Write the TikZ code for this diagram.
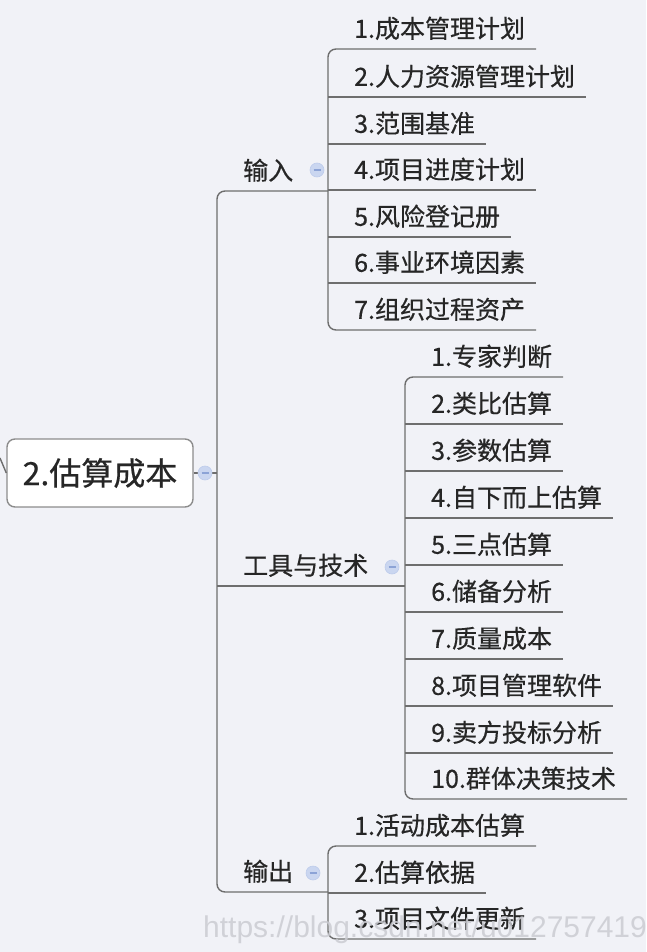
\documentclass[tikz,border=0pt]{standalone}
\usepackage{fontspec}
\setmainfont{Noto Sans CJK SC}[FakeBold=0.5]
\newfontfamily\wmfont{Liberation Sans}
\definecolor{bgc}{HTML}{F1F2F7}
\definecolor{linec}{HTML}{6E6E6E}
\definecolor{txtc}{HTML}{262626}
\definecolor{boxc}{HTML}{8C8C8C}
\definecolor{iconfill}{HTML}{CAD6F0}
\definecolor{iconline}{HTML}{8CA3D6}
\definecolor{wmc}{HTML}{CBCCD2}
\tikzset{
  conn/.style={draw=linec, line width=1.4pt},
  childbox/.style={anchor=south west, inner sep=0pt, text height=17pt, text depth=11pt,
    text=txtc, font=\fontsize{25}{28}\selectfont},
  topicbox/.style={anchor=south west, inner sep=0pt, text height=17pt, text depth=11pt,
    text=txtc, font=\fontsize{25}{28}\selectfont},
  rootbox/.style={draw=boxc, fill=white, line width=1.4pt, rounded corners=8pt,
    minimum width=186pt, minimum height=68pt, inner sep=0pt, text=txtc,
    font=\fontsize{32}{36}\selectfont},
  foldicon/.style={circle, fill=iconfill, draw=iconfill!80!iconline, line width=0.6pt,
    minimum size=14pt, inner sep=0pt,
    path picture={\draw[iconline, line width=1.2pt]
      ([xshift=-3.5pt]path picture bounding box.center) -- ([xshift=3.5pt]path picture bounding box.center);}},
}
\newcommand{\childtxt}[1]{\hspace*{26pt}#1\hspace*{11pt}}
\newcommand{\topictxt}[1]{\hspace*{26pt}#1}
\begin{document}
\begin{tikzpicture}[x=1pt,y=-1pt]
\fill[bgc] (0,0) rectangle (646,952);
\useasboundingbox (0,0) rectangle (646,952);

% root
\node[rootbox] (root) at (100,473) {2.估算成本};
\coordinate (parentEnd) at (0,458);
\draw[conn] (parentEnd) -- (root.west);

% level-1 topics
\node[topicbox] (inL) at (217,191) {\topictxt{输入}};
\node[topicbox] (toolL) at (217,586) {\topictxt{工具与技术}};
\node[topicbox] (outL) at (217,892) {\topictxt{输出}};

% inputs
\node[childbox] (c1) at (328,49) {\childtxt{1.成本管理计划}};
\node[childbox] (c2) at (328,97) {\childtxt{2.人力资源管理计划}};
\node[childbox] (c3) at (328,144) {\childtxt{3.范围基准}};
\node[childbox] (c4) at (328,190) {\childtxt{4.项目进度计划}};
\node[childbox] (c5) at (328,237) {\childtxt{5.风险登记册}};
\node[childbox] (c6) at (328,283) {\childtxt{6.事业环境因素}};
\node[childbox] (c7) at (328,330) {\childtxt{7.组织过程资产}};

% tools
\node[childbox] (t1) at (405,377) {\childtxt{1.专家判断}};
\node[childbox] (t2) at (405,424) {\childtxt{2.类比估算}};
\node[childbox] (t3) at (405,471) {\childtxt{3.参数估算}};
\node[childbox] (t4) at (405,518) {\childtxt{4.自下而上估算}};
\node[childbox] (t5) at (405,565) {\childtxt{5.三点估算}};
\node[childbox] (t6) at (405,612) {\childtxt{6.储备分析}};
\node[childbox] (t7) at (405,659) {\childtxt{7.质量成本}};
\node[childbox] (t8) at (405,706) {\childtxt{8.项目管理软件}};
\node[childbox] (t9) at (405,753) {\childtxt{9.卖方投标分析}};
\node[childbox] (t10) at (405,799) {\childtxt{10.群体决策技术}};

% outputs
\node[childbox] (o1) at (328,846) {\childtxt{1.活动成本估算}};
\node[childbox] (o2) at (328,893) {\childtxt{2.估算依据}};
\node[childbox] (o3) at (328,939) {\childtxt{3.项目文件更新}};

% main spine
\draw[conn, rounded corners=8pt] (inL.south -| c1.south west) -- (inL.south west) -- (outL.south west) -- (outL.south -| o1.south west);
\draw[conn] (toolL.south west) -- (toolL.south -| t1.south west);
\draw[conn] (root.east) -- (root.east -| inL.south west);

% input spine
\draw[conn, rounded corners=8pt] (c1.south east) -- (c1.south west) -- (c7.south west) -- (c7.south east);
\foreach \n in {c2,c3,c4,c5,c6} \draw[conn] (\n.south west) -- (\n.south east);

% tools spine
\draw[conn, rounded corners=8pt] (t1.south east) -- (t1.south west) -- (t10.south west) -- (t10.south east);
\foreach \n in {t2,t3,t4,t5,t6,t7,t8,t9} \draw[conn] (\n.south west) -- (\n.south east);

% outputs spine
\draw[conn, rounded corners=8pt] (o1.south east) -- (o1.south west) -- (o3.south west) -- (o3.south east);
\draw[conn] (o2.south west) -- (o2.south east);

% fold icons
\node[foldicon] (rootIcon) at (205,473) {};
\node[foldicon] (inIcon) at (317,170) {};
\node[foldicon] (toolIcon) at (392,567) {};
\node[foldicon] (outIcon) at (313,873) {};

% watermark
\node[anchor=base west, inner sep=0pt, text=wmc, opacity=0.85,
  font=\wmfont\fontsize{30}{33}\selectfont] (wm) at (203,937) {https://blog.csdn.net/u012757419};
\end{tikzpicture}
\end{document}
